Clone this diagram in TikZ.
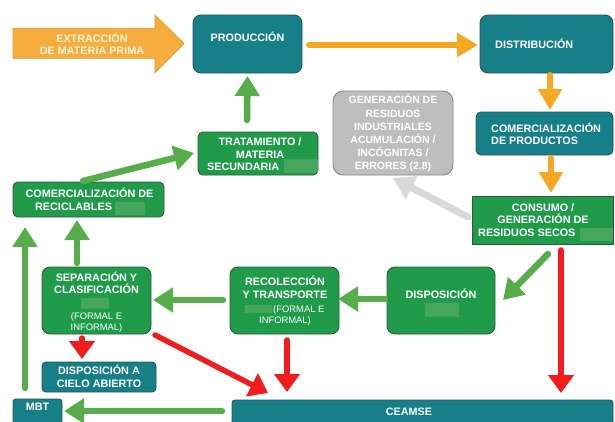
\documentclass[tikz,border=0pt]{standalone}
\usepackage{fontspec}
\setmainfont{Liberation Sans}
\usetikzlibrary{arrows.meta,calc}
\definecolor{tealbox}{HTML}{177F88}
\definecolor{tealborder}{HTML}{2F5257}
\definecolor{greenbox}{HTML}{1F9B4A}
\definecolor{greenborder}{HTML}{2E5A3B}
\definecolor{redact}{HTML}{45A65C}
\definecolor{arrowgreen}{HTML}{58AD4B}
\definecolor{arroworange}{HTML}{F6A821}
\definecolor{arrowred}{HTML}{F21C1C}
\definecolor{arrowgray}{HTML}{D9D9D9}
\definecolor{graybox}{HTML}{BEBEBE}
\definecolor{grayborder}{HTML}{858585}
\definecolor{extfill}{HTML}{F7AC3E}
\definecolor{extborder}{HTML}{E89A2A}
\definecolor{exttext}{HTML}{FFF4DC}
\tikzset{
  basebox/.style={draw, line width=0.9pt, inner sep=0pt, outer sep=0pt},
  tealnode/.style={basebox, fill=tealbox, draw=tealborder, rounded corners=6pt},
  greennode/.style={basebox, fill=greenbox, draw=greenborder, rounded corners=6pt},
  lbl/.style={text=white, inner sep=0pt, text height=7.7pt, text depth=0pt, align=center},
  smalllbl/.style={lbl, font=\fontsize{9.4}{11.2}\selectfont, text height=6.7pt},
  redbox/.style={fill=redact, draw=none, inner sep=0pt},
  garrow/.style={draw=arrowgreen, line width=6.5pt, line cap=round, -{Triangle[width=24pt,length=20pt]}},
  oarrow/.style={draw=arroworange, line width=6pt, line cap=round, -{Triangle[width=23pt,length=21pt]}},
  rarrow/.style={draw=arrowred, line width=5.5pt, line cap=round, -{Triangle[width=25pt,length=18pt]}},
  grarrow/.style={draw=arrowgray, line width=7pt, line cap=round, -{Triangle[width=25pt,length=21pt]}},
}
\begin{document}
\begin{tikzpicture}[x=1pt, y=-1pt, font=\fontsize{10.8}{12.8}\selectfont\bfseries]
\useasboundingbox (0,0) rectangle (615,421);

% extraction arrow
\coordinate (exttip) at (184,43.5);
\filldraw[fill=extfill, draw=extborder, line width=0.8pt]
  (13,28.3) -- (155,28.3) -- (155,15) -- (exttip) -- (155,72.7) -- (155,58.3) -- (13,58.3) -- cycle;
\node[lbl, text=exttext] (extT) at (92,51) {EXTRACCIÓN\\DE MATERIA PRIMA};

% boxes
\node[tealnode, minimum width=109pt, minimum height=58pt, rounded corners=8pt] (prod) at (247.5,44) {};
\node[lbl] (prodT) at (247.5,38) {PRODUCCIÓN};

\node[tealnode, minimum width=133pt, minimum height=58pt, rounded corners=8pt] (dist) at (546.5,44) {};
\node[lbl, anchor=west] (distT) at (495,45) {DISTRIBUCIÓN};

\node[tealnode, minimum width=137pt, minimum height=43pt, rounded corners=5pt] (comprod) at (544.5,133.5) {};
\node[lbl, align=left, anchor=west] (comprodT) at (491,141) {COMERCIALIZACIÓN\\DE PRODUCTOS};

\node[basebox, fill=graybox, draw=grayborder, rounded corners=10pt, minimum width=120pt, minimum height=84pt] (gen) at (393,133) {};
\node[lbl, font=\fontsize{10.5}{13.2}\selectfont\bfseries] (genT) at (393,166) {GENERACIÓN DE\\RESIDUOS\\INDUSTRIALES\\ACUMULACIÓN /\\INCÓGNITAS /\\ERRORES (2.8)};

\node[greennode, sharp corners, minimum width=141pt, minimum height=48pt] (consumo) at (542.5,220) {};
\node[lbl] (consumoT) at (543,220) {CONSUMO /\\GENERACIÓN DE};
\node[lbl, anchor=west] (consumoT2) at (478,233) {RESIDUOS SECOS};
\node[redbox, minimum width=33pt, minimum height=13pt] (r1) at (596,234.5) {};

\node[greennode, rounded corners=5pt, minimum width=120pt, minimum height=43pt] (trat) at (258,153.5) {};
\node[lbl] (tratT) at (260,154.5) {TRATAMIENTO /\\MATERIA};
\node[lbl, anchor=west] (tratT2) at (207,167) {SECUNDARIA};
\node[redbox, minimum width=34pt, minimum height=14pt] (r2) at (300.5,166) {};

\node[greennode, rounded corners=5pt, minimum width=151pt, minimum height=35pt] (comrec) at (88.5,199.5) {};
\node[lbl] (comrecT) at (89.5,194) {COMERCIALIZACIÓN DE};
\node[lbl, anchor=west] (comrecT2) at (35,207) {RECICLABLES};
\node[redbox, minimum width=30pt, minimum height=13pt] (r3) at (130,208.5) {};

\node[greennode, rounded corners=8pt, minimum width=109pt, minimum height=67pt] (sep) at (96.5,300.5) {};
\node[lbl] (sepT) at (96.5,290) {SEPARACIÓN Y\\CLASIFICACIÓN};
\node[redbox, minimum width=28pt, minimum height=11pt] (r4) at (95,303.5) {};
\node[smalllbl] (sepT2) at (96.5,327) {(FORMAL E\\INFORMAL)};

\node[greennode, rounded corners=8pt, minimum width=109pt, minimum height=67pt] (recol) at (284.5,300.5) {};
\node[lbl] (recolT) at (285,294.5) {RECOLECCIÓN\\Y TRANSPORTE};
\node[redbox, minimum width=27pt, minimum height=8pt] (r5) at (258.5,309) {};
\node[smalllbl, anchor=west] (recolT2) at (273,309.5) {(FORMAL E};
\node[smalllbl] (recolT3) at (285,320.5) {INFORMAL)};

\node[greennode, rounded corners=8pt, minimum width=108pt, minimum height=67pt] (disp) at (441,300.5) {};
\node[lbl] (dispT) at (441,295) {DISPOSICIÓN};
\node[redbox, minimum width=34pt, minimum height=14pt] (r6) at (442,310) {};

\node[tealnode, rounded corners=4pt, minimum width=114pt, minimum height=30pt] (cielo) at (99,377) {};
\node[lbl] (cieloT) at (99,383.5) {DISPOSICIÓN A\\CIELO ABIERTO};

\node[tealnode, rounded corners=3pt, minimum width=49pt, minimum height=41pt] (mbt) at (37.5,419.5) {};
\node[lbl] (mbtT) at (37.5,407) {MBT};

\node[tealnode, rounded corners=3pt, minimum width=381pt, minimum height=40pt] (ceamse) at (422.5,420) {};
\node[lbl] (ceamseT) at (409,412) {CEAMSE};

% orange arrows
\draw[oarrow] ($(prod.east)+(7,1)$) -- ($(dist.west)+(-2,1)$);
\draw[oarrow] ($(dist.south)+(3.5,2)$) -- ($(comprod.north)+(5.5,-2)$);
\draw[oarrow] ($(comprod.south)+(6.5,3)$) -- ($(consumo.north)+(8.5,-3)$);

% gray arrow
\draw[grarrow] ($(consumo.west)+(-4,-3)$) -- ($(gen.south)+(0,3)$);

% green arrows
\draw[garrow] ($(trat.north)+(-11,-12)$) -- ($(prod.south)+(0,3)$);
\draw[garrow] ($(comrec.north)+(-5.5,-1)$) -- ($(trat.west)+(-4,-0.5)$);
\draw[garrow] ($(sep.north)+(-19.5,-4)$) -- ($(comrec.south)+(-11.5,3)$);
\draw[garrow] ($(mbt.north)+(-12.5,-11)$) -- ($(comrec.south west)+(12,10)$);
\draw[garrow] ($(recol.west)+(-7,-0.5)$) -- ($(sep.east)+(2,-0.5)$);
\draw[garrow] ($(disp.west)+(-2,-1.5)$) -- ($(recol.east)+(-1,-1.5)$);
\draw[garrow] ($(consumo.south)+(5.5,10)$) -- ($(disp.east)+(8,-0.5)$);
\draw[garrow] ($(ceamse.north west)+(-10,11)$) -- ($(mbt.north east)+(2,12)$);

% red arrows
\draw[rarrow] ($(consumo.south)+(18.5,6)$) -- ($(ceamse.north)+(138.5,-7)$);
\draw[rarrow] ($(recol.south)+(2.5,6)$) -- ($(ceamse.north west)+(55,-8)$);
\draw[rarrow] ($(sep.south east)+(4,1)$) -- ($(ceamse.north west)+(36,-7)$);
\draw[rarrow] ($(sep.south)+(-14.5,4)$) -- ($(cielo.north)+(-17,-3)$);
\end{tikzpicture}
\end{document}
